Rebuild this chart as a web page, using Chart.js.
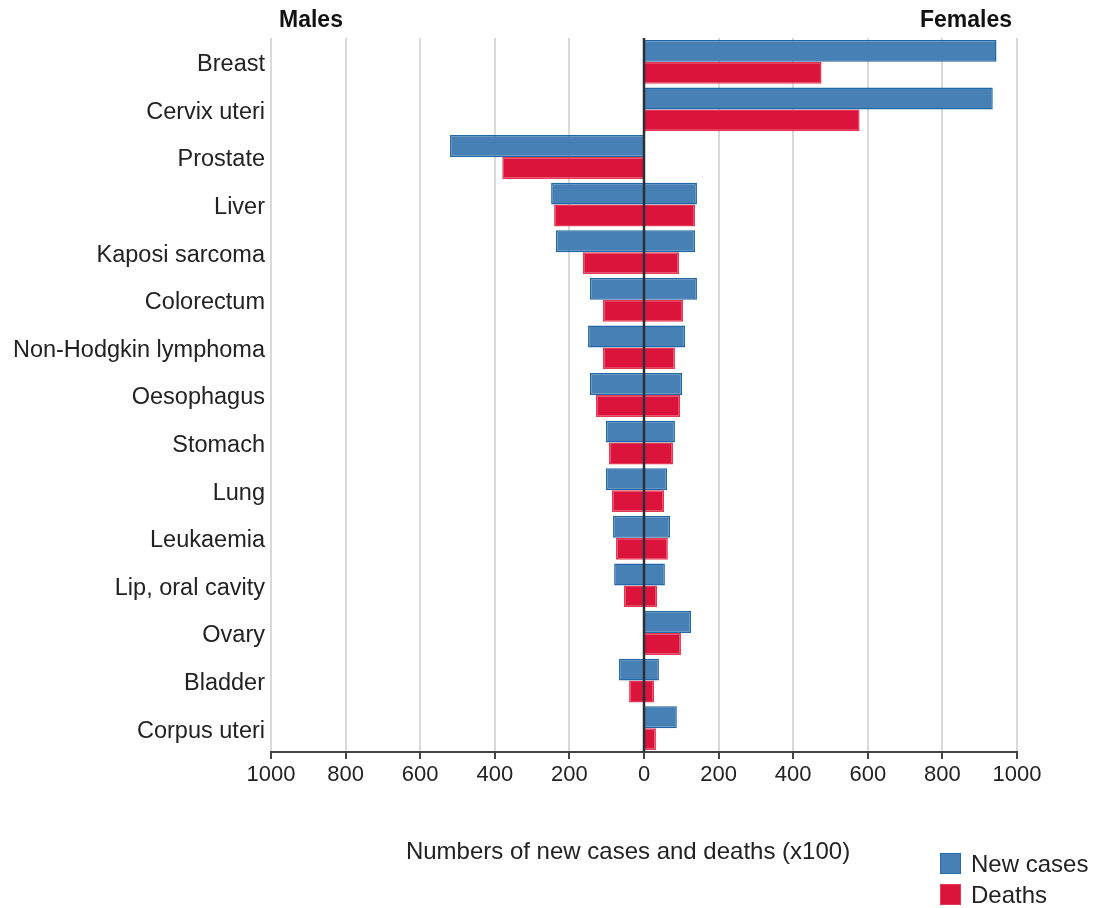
<!DOCTYPE html>
<html>
<head>
<meta charset="utf-8">
<script src="https://cdn.jsdelivr.net/npm/chart.js@4/dist/chart.umd.min.js"></script>
<style>
  html, body { margin: 0; padding: 0; background: #fff; }
  #wrap { position: relative; width: 1093px; height: 908px; }
  canvas { position: absolute; left: 0; top: 0; }
  .leg { position: absolute; left: 940px; height: 21px; font-family: "Liberation Sans", Arial, sans-serif; font-size: 24px; color: #222; display: flex; align-items: center; white-space: nowrap; }
  .leg span.sw { display: inline-block; width: 21px; height: 21px; margin-right: 10px; box-sizing: border-box; }
</style>
</head>
<body>
<div id="wrap">
  <canvas id="c" width="1093" height="908"></canvas>
  <div class="leg" style="top:853px;"><span class="sw" style="background:#4680b4;border:1px solid #2a6ca8;"></span>New cases</div>
  <div class="leg" style="top:884px;"><span class="sw" style="background:#dc143c;border:1px solid #e33a55;"></span>Deaths</div>
</div>
<script>
const categories = ["Breast", "Cervix uteri", "Prostate", "Liver", "Kaposi sarcoma", "Colorectum",
  "Non-Hodgkin lymphoma", "Oesophagus", "Stomach", "Lung", "Leukaemia", "Lip, oral cavity",
  "Ovary", "Bladder", "Corpus uteri"];
const maleCases    = [null, null, -520, -249, -236, -145, -150, -145, -102, -102, -83, -80, null, -67, null];
const maleDeaths   = [null, null, -380, -241, -164, -110, -110, -129, -94, -86, -75, -54, null, -40, null];
const femaleCases  = [945, 935, null, 142, 137, 142, 110, 102, 83, 62, 70, 56, 126, 40, 88];
const femaleDeaths = [476, 578, null, 137, 94, 105, 83, 97, 78, 54, 64, 35, 99, 27, 32];
const xTicks = [-1000, -800, -600, -400, -200, 0, 200, 400, 600, 800, 1000];
const axisTitle = "Numbers of new cases and deaths (x100)";
const leftLabel = "Males";
const rightLabel = "Females";

const FONT = '"Liberation Sans", Arial, sans-serif';
const BLUE = '#4680b4', BLUE_B = '#2368a6';
const RED = '#dc143c', RED_B = '#e33a55';

const overlay = {
  id: 'overlay',
  afterLayout(chart) {
    const ys = chart.scales.y;
    if (!ys._shifted) {
      const orig = ys.drawLabels;
      ys.drawLabels = function (area) {
        const ctx = this.ctx;
        ctx.save();
        ctx.translate(0, 3);
        orig.call(this, area);
        ctx.restore();
      };
      ys._shifted = true;
    }
  },
  afterDatasetsDraw(chart) {
    const ctx = chart.ctx, a = chart.chartArea, x0 = chart.scales.x.getPixelForValue(0);
    ctx.save();
    ctx.strokeStyle = '#2b2f36';
    ctx.lineWidth = 2.5;
    ctx.beginPath();
    ctx.moveTo(x0, a.top);
    ctx.lineTo(x0, a.bottom);
    ctx.stroke();
    ctx.fillStyle = '#111';
    ctx.font = 'bold 23px ' + FONT;
    ctx.textBaseline = 'middle';
    ctx.textAlign = 'left';
    ctx.fillText(leftLabel, 279, 21);
    ctx.textAlign = 'right';
    ctx.fillText(rightLabel, 1012, 21);
    ctx.fillStyle = '#222';
    ctx.font = '24px ' + FONT;
    ctx.textAlign = 'center';
    ctx.fillText(axisTitle, 628, 852);
    ctx.restore();
  }
};

function ds(label, data, bg, bc, stack) {
  return { label, data, backgroundColor: bg, borderColor: bc, borderWidth: 1.5, stack,
           categoryPercentage: 0.92, barPercentage: 1.0 };
}

new Chart(document.getElementById('c'), {
  type: 'bar',
  data: {
    labels: categories,
    datasets: [
      ds('New cases', maleCases, BLUE, BLUE_B, 'cases'),
      ds('New cases', femaleCases, BLUE, BLUE_B, 'cases'),
      ds('Deaths', maleDeaths, RED, RED_B, 'deaths'),
      ds('Deaths', femaleDeaths, RED, RED_B, 'deaths')
    ]
  },
  options: {
    indexAxis: 'y',
    responsive: false,
    animation: false,
    layout: { padding: { left: 0, right: 76, top: 38, bottom: 0 } },
    plugins: { legend: { display: false }, tooltip: { enabled: false } },
    scales: {
      x: {
        stacked: true,
        min: -1000, max: 1000,
        afterBuildTicks(scale) { scale.ticks = xTicks.map(v => ({ value: v })); },
        afterFit(scale) { scale.height = 156; },
        ticks: {
          callback: v => String(Math.abs(v)),
          font: { family: FONT, size: 22 },
          color: '#222',
          padding: 3,
          maxRotation: 0
        },
        grid: {
          color: '#d9d9d9',
          lineWidth: 2,
          tickColor: '#444',
          tickLength: 7,
          tickWidth: 2
        },
        border: { display: true, color: '#444', width: 2 },
        title: { display: false }
      },
      y: {
        stacked: true,
        afterFit(scale) { scale.width = 271; },
        ticks: {
          font: { family: FONT, size: 23.5 },
          color: '#222',
          padding: 6
        },
        grid: { display: false, drawTicks: false },
        border: { display: false }
      }
    }
  },
  plugins: [overlay]
});
</script>
</body>
</html>
